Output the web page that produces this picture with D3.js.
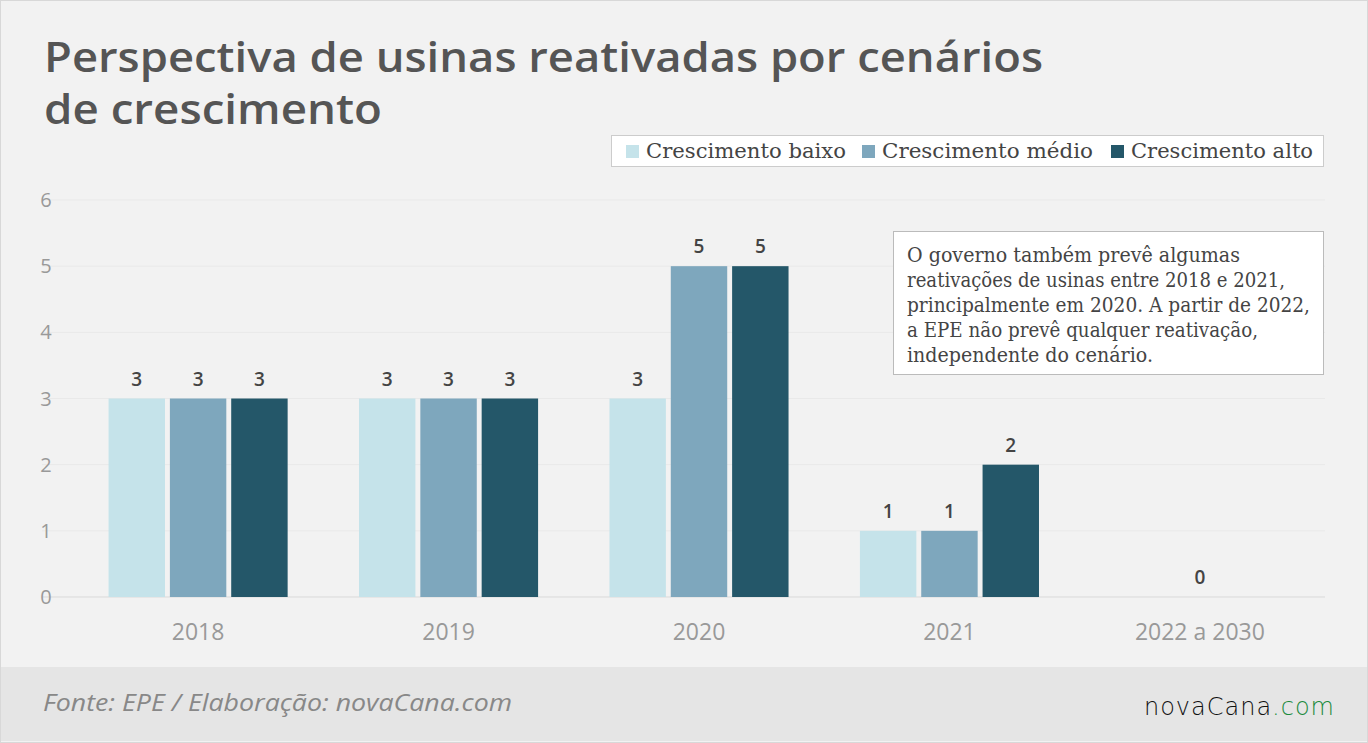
<!DOCTYPE html><html><head><meta charset="utf-8"><script src="https://cdn.jsdelivr.net/npm/d3@7"></script>
<style>body{margin:0;background:#fff}svg{display:block}</style></head><body><svg id="c" width="1368" height="743"></svg>
<script>
const categories=["2018","2019","2020","2021","2022 a 2030"];
const seriesNames=["Crescimento baixo","Crescimento médio","Crescimento alto"];
const baixo=[3,3,3,1,0];
const medio=[3,3,5,1,0];
const alto=[3,3,5,2,0];
const yTicks=[0,1,2,3,4,5,6];
const colors=["#c5e3ea","#7ea7bd","#245769"];
const series=[baixo,medio,alto];
const svg=d3.select("#c");
svg.append("rect").attr("x",0.5).attr("y",0.5).attr("width",1367).attr("height",742).attr("fill","#f2f2f2").attr("stroke","#d8d8d8");
svg.append("rect").attr("x",1).attr("y",667).attr("width",1366).attr("height",74).attr("fill","#e5e5e5");
const tf="'Open Sans',sans-serif";
svg.append("text").attr("x",44).attr("y",72).attr("font-family",tf).attr("font-weight",600).attr("font-size",41).attr("textLength",999).attr("lengthAdjust","spacingAndGlyphs").attr("fill","#555").text("Perspectiva de usinas reativadas por cenários");
svg.append("text").attr("x",44).attr("y",124).attr("font-family",tf).attr("font-weight",600).attr("font-size",41).attr("textLength",338).attr("lengthAdjust","spacingAndGlyphs").attr("fill","#555").text("de crescimento");
const y=d3.scaleLinear().domain([0,6]).range([597,200]);
const x=d3.scaleBand().domain(categories).range([73,1325]).paddingInner(0.285).paddingOuter(0.142);
const x1=d3.scaleBand().domain([0,1,2]).range([0,x.bandwidth()]).paddingInner(0.08);
const g=svg.append("g");
yTicks.forEach(t=>{
 g.append("line").attr("x1",42).attr("x2",1325).attr("y1",y(t)).attr("y2",y(t)).attr("stroke",t===0?"#d9d9d9":"#e9e9e9");
 g.append("text").attr("x",46).attr("y",y(t)+7).attr("text-anchor","middle").attr("font-family",tf).attr("font-size",20).attr("fill","#999").text(t);
});
categories.forEach((c,i)=>{
 g.append("text").attr("x",x(c)+x.bandwidth()/2).attr("y",640).attr("text-anchor","middle").attr("font-family",tf).attr("font-size",23).attr("fill","#999").text(c);
 series.forEach((s,j)=>{
  const v=s[i];
  if(v>0) g.append("rect").attr("x",x(c)+x1(j)).attr("y",y(v)).attr("width",x1.bandwidth()).attr("height",y(0)-y(v)).attr("fill",colors[j]);
 });
 const vals=series.map(s=>s[i]);
 if(vals.every(v=>v===0)){
  g.append("text").attr("x",x(c)+x.bandwidth()/2).attr("y",y(0)-13).attr("text-anchor","middle").attr("font-family",tf).attr("font-weight",600).attr("font-size",19).attr("fill","#444").text(0);
 } else series.forEach((s,j)=>{
  g.append("text").attr("x",x(c)+x1(j)+x1.bandwidth()/2).attr("y",y(s[i])-13).attr("text-anchor","middle").attr("font-family",tf).attr("font-weight",600).attr("font-size",19).attr("fill","#444").text(s[i]);
 });
});
const sf="'DejaVu Serif',serif";
svg.append("rect").attr("x",611.5).attr("y",135.5).attr("width",712).attr("height",31).attr("fill","#fff").attr("stroke","#ccc");
const lx=[626,862,1111];
seriesNames.forEach((n,j)=>{
 svg.append("rect").attr("x",lx[j]).attr("y",145).attr("width",13).attr("height",13).attr("fill",colors[j]);
 svg.append("text").attr("x",lx[j]+20).attr("y",158).attr("font-family",sf).attr("font-size",21).attr("textLength",[200,211,182][j]).attr("lengthAdjust","spacingAndGlyphs").attr("fill","#444").text(n);
});
svg.append("rect").attr("x",893.5).attr("y",231.5).attr("width",430).attr("height",143).attr("fill","#fff").attr("stroke","#bbb");
["O governo também prevê algumas","reativações de usinas entre 2018 e 2021,","principalmente em 2020. A partir de 2022,","a EPE não prevê qualquer reativação,","independente do cenário."].forEach((l,i)=>{
 const lens=[333,378,403,351,246];
 svg.append("text").attr("x",907).attr("y",262+i*25).attr("font-family",sf).attr("font-size",20).attr("textLength",lens[i]).attr("lengthAdjust","spacingAndGlyphs").attr("fill","#444").text(l);
});
svg.append("text").attr("x",43).attr("y",711).attr("font-family",tf).attr("font-style","italic").attr("font-size",23).attr("textLength",469).attr("lengthAdjust","spacingAndGlyphs").attr("fill","#888").text("Fonte: EPE / Elaboração: novaCana.com");
const lg=svg.append("text").attr("x",1335).attr("y",715).attr("text-anchor","end").attr("font-family","'DejaVu Sans',sans-serif").attr("font-weight",300).attr("font-size",24).attr("letter-spacing",1).attr("fill","#111");
lg.append("tspan").attr("fill","#111").text("novaCana");
lg.append("tspan").attr("fill","#1a8a3c").text(".com");
</script></body></html>
